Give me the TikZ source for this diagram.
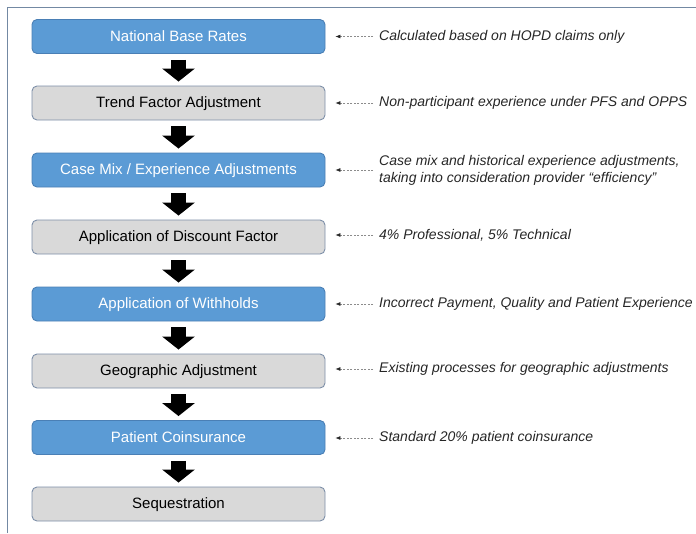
\documentclass[tikz,border=0pt]{standalone}
\usepackage{fontspec}
\setmainfont{Liberation Sans}
\usetikzlibrary{arrows.meta,calc}
\definecolor{boxblue}{HTML}{5B9BD5}
\definecolor{boxblueline}{HTML}{4A7FB5}
\definecolor{boxgrey}{HTML}{D9D9D9}
\definecolor{boxgreyline}{HTML}{7D8FA8}
\definecolor{framecol}{HTML}{7389A3}
\definecolor{notecol}{HTML}{262626}
\definecolor{dashcol}{HTML}{8C8C8C}
\tikzset{
  x=1pt,y=-1pt,
  basebox/.style={rounded corners=5pt, line width=0.9pt, minimum width=293pt, minimum height=34pt, inner sep=0pt, text height=11pt, text depth=2pt, font=\fontsize{15}{18}\selectfont},
  bluebox/.style={basebox, fill=boxblue, draw=boxblueline, text=white},
  greybox/.style={basebox, fill=boxgrey, draw=boxgreyline, text=black},
  note/.style={anchor=west, align=left, inner sep=0pt, text=notecol, font=\fontsize{14}{17}\selectfont\itshape},
  notearrow/.style={draw=dashcol, line width=0.6pt, dash pattern=on 2pt off 1.5pt, -{Latex[length=5pt,width=4pt,color=notecol]}, shorten >=10pt, shorten <=6pt},
  blockarrow/.style={line width=15pt, -{Triangle[width=32pt,length=13pt]}, black, shorten <=6pt, shorten >=4pt}
}
\begin{document}
\begin{tikzpicture}
\useasboundingbox (0,0) rectangle (696,533);
\draw[framecol, line width=1.5pt] (7.5,533) -- (7.5,7.5) -- (696,7.5);
\node[bluebox] (b1) at (178.5,36.5) {National Base Rates};
\node[greybox] (b2) at (178.5,103) {Trend Factor Adjustment};
\node[bluebox] (b3) at (178.5,170) {Case Mix / Experience Adjustments};
\node[greybox] (b4) at (178.5,237) {Application of Discount Factor};
\node[bluebox] (b5) at (178.5,304) {Application of Withholds};
\node[greybox] (b6) at (178.5,371) {Geographic Adjustment};
\node[bluebox] (b7) at (178.5,437.5) {Patient Coinsurance};
\node[greybox] (b8) at (178.5,504) {Sequestration};
\foreach \a/\b in {b1/b2,b2/b3,b3/b4,b4/b5,b5/b6,b6/b7,b7/b8}
  \draw[blockarrow] (\a.south) -- (\b.north);
\node[note] (n1) at (379,36.5) {Calculated based on HOPD claims only};
\node[note] (n2) at (379,103) {Non-participant experience under PFS and OPPS};
\node[note] (n3) at (379,170) {Case mix and historical experience adjustments,\\taking into consideration provider “efficiency”};
\node[note] (n4) at (379,235) {4\% Professional, 5\% Technical};
\node[note] (n5) at (379,304) {Incorrect Payment, Quality and Patient Experience};
\node[note] (n6) at (379,369) {Existing processes for geographic adjustments};
\node[note] (n7) at (379,438) {Standard 20\% patient coinsurance};
\foreach \n/\b in {n1/b1,n2/b2,n3/b3,n4/b4,n5/b5,n6/b6,n7/b7}
  \draw[notearrow] (\n.west) -- (\n.west -| \b.east);
\end{tikzpicture}
\end{document}
